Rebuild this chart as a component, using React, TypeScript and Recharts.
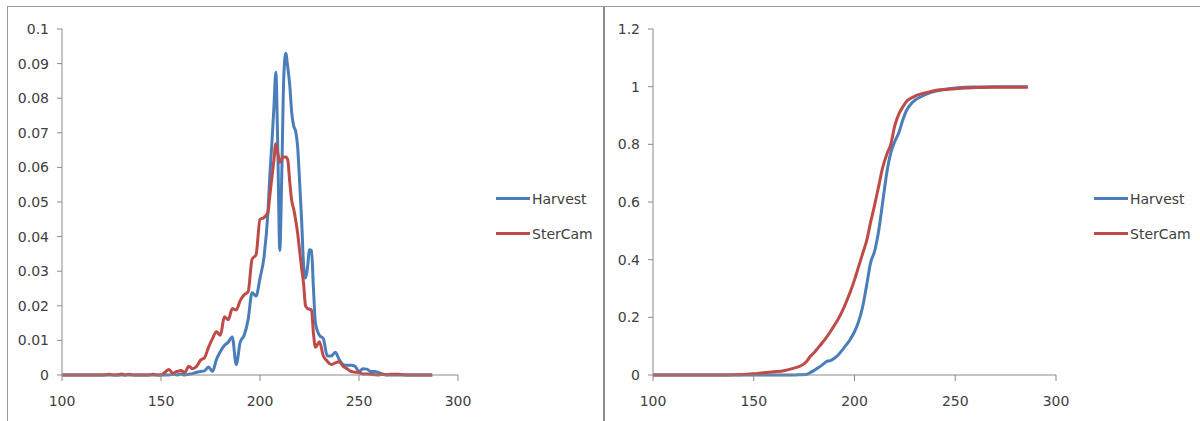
import { LineChart, Line, XAxis, YAxis, Legend } from 'recharts';

const pdfX = [
  100, 104, 108, 112, 116, 120, 124, 126, 128, 130, 132, 134, 136, 140, 144, 146, 148,
  150, 152, 154, 156, 158, 160, 162, 164, 166, 168, 170, 172, 174, 176, 178, 180, 182, 184, 186, 188, 190, 192, 194, 196, 198, 200, 202,
  204, 205, 206, 207, 208, 209, 210, 211, 212, 213, 214, 215, 216, 217, 218, 219, 220, 221, 222, 223, 224, 225, 226, 227, 228,
  230, 232, 234, 236, 238, 240, 242, 244, 246, 248, 250, 252, 254, 256, 258, 260, 262,
  264, 266, 270, 275, 280, 287,
];
const harvestPdf = [
  0, 0, 0, 0, 0, 0, 0, 0, 0, 0, 0, 0, 0, 0, 0, 0, 0,
  0, 0, 0, 0.0002, 0, 0.0003, 0, 0.0002, 0.0004, 0.0008, 0.001, 0.0012, 0.0023, 0.001, 0.0045, 0.0068, 0.0085, 0.0095, 0.011, 0.003, 0.0095, 0.0115, 0.016, 0.0238, 0.0228, 0.028, 0.034,
  0.047, 0.058, 0.067, 0.077, 0.0875, 0.065, 0.036, 0.058, 0.086, 0.093, 0.089, 0.084, 0.076, 0.072, 0.0705, 0.066, 0.056, 0.045, 0.032, 0.028, 0.031, 0.0362, 0.036, 0.025, 0.015,
  0.0115, 0.0105, 0.0055, 0.0055, 0.0066, 0.0045, 0.003, 0.0028, 0.0028, 0.0025, 0.001, 0.0018, 0.0017, 0.001, 0.001, 0.0007, 0.0002,
  0, 0, 0, 0, 0, 0,
];
const sterCamPdf = [
  0, 0, 0, 0, 0, 0, 0.0002, 0, 0, 0.0003, 0, 0.0002, 0, 0, 0, 0.0002, 0,
  0, 0.0008, 0.0016, 0.0005, 0.001, 0.0013, 0.0007, 0.0025, 0.0018, 0.0025, 0.0043, 0.005, 0.008, 0.0105, 0.0125, 0.0115, 0.0168, 0.016, 0.0192, 0.0188, 0.0215, 0.0232, 0.024, 0.0335, 0.0347, 0.045, 0.0455,
  0.047, 0.052, 0.057, 0.062, 0.0668, 0.064, 0.0615, 0.0625, 0.063, 0.063, 0.0622, 0.056, 0.0505, 0.048, 0.0448, 0.041, 0.036, 0.031, 0.0265, 0.02, 0.0192, 0.019, 0.0188, 0.012, 0.008,
  0.0096, 0.0055, 0.004, 0.003, 0.0035, 0.0038, 0.0025, 0.0018, 0.001, 0.0008, 0.0007, 0.0003, 0.0003, 0.0002, 0.0001, 0, 0.0002,
  0.0001, 0.0002, 0.0002, 0, 0, 0,
];

const cdfX = [
  100, 110, 120, 130, 140, 145, 150, 155, 160, 165, 170, 173, 176,
  178, 180, 182, 184, 186, 188, 190, 192, 194, 196, 198, 200, 202, 204, 206, 208, 210, 212, 214, 216, 218, 220, 222, 224, 226, 228, 230,
  233, 236, 240, 245, 250, 255, 260, 270, 280, 286,
];
const harvestCdf = [
  0, 0, 0, 0, 0, 0, 0, 0, 0, 0, 0, 0.001, 0.002,
  0.008, 0.016, 0.025, 0.035, 0.046, 0.05, 0.058, 0.07, 0.087, 0.105, 0.125, 0.15, 0.185, 0.235, 0.31, 0.39, 0.43, 0.5, 0.6, 0.7, 0.77, 0.81, 0.84, 0.885, 0.92, 0.94, 0.953,
  0.965, 0.975, 0.984, 0.991, 0.995, 0.998, 0.999, 1, 1, 1,
];
const sterCamCdf = [
  0, 0, 0, 0, 0.001, 0.002, 0.004, 0.008, 0.011, 0.015, 0.024, 0.031, 0.045,
  0.064, 0.078, 0.095, 0.112, 0.13, 0.15, 0.172, 0.195, 0.222, 0.255, 0.29, 0.33, 0.375, 0.42, 0.465, 0.53, 0.59, 0.655, 0.72, 0.765, 0.8, 0.865, 0.905, 0.93, 0.95, 0.96, 0.967,
  0.975, 0.98, 0.987, 0.99, 0.993, 0.995, 0.997, 0.998, 0.998, 0.998,
];

const xTicks = [100, 150, 200, 250, 300];
const pdfTicks = [0, 0.01, 0.02, 0.03, 0.04, 0.05, 0.06, 0.07, 0.08, 0.09, 0.1];
const cdfTicks = [0, 0.2, 0.4, 0.6, 0.8, 1, 1.2];

const BLUE = '#4a7ebb';
const RED = '#be4b48';
const AXIS = '#8a8a8a';
const FONT = 'DejaVu Sans, sans-serif';
const tick = { fill: '#404040', fontSize: 14, fontFamily: FONT };
const LEGEND_W = 110;

const pdfData = pdfX.map((x, i) => ({ x, harvest: harvestPdf[i], sterCam: sterCamPdf[i] }));
const cdfData = cdfX.map((x, i) => ({ x, harvest: harvestCdf[i], sterCam: sterCamCdf[i] }));

const fmt = (v: number) => String(+v.toFixed(2));

function SideLegend({ payload }: any) {
  return (
    <div>
      {(payload || []).map((p: any) => (
        <div key={p.value} style={{ display: 'flex', alignItems: 'center', height: 35 }}>
          <div style={{ width: 34, height: 3, background: p.color, marginRight: 2 }} />
          <span style={{ fontFamily: FONT, fontSize: 14, color: '#404040' }}>{p.value}</span>
        </div>
      ))}
    </div>
  );
}

// right = distance from plot's right edge to the panel's right edge
function Panel({ data, ticks, domain, yWidth, right }: { data: any[]; ticks: number[]; domain: [number, number]; yWidth: number; right: number }) {
  return (
    <LineChart width={600} height={421} data={data} margin={{ top: 29, right: right - LEGEND_W, bottom: 16, left: 0 }}>
      <XAxis
        dataKey="x"
        type="number"
        domain={[100, 300]}
        ticks={xTicks}
        stroke={AXIS}
        tick={tick}
        tickSize={6}
        tickMargin={15}
        height={30}
        interval={0}
      />
      <YAxis
        type="number"
        domain={domain}
        ticks={ticks}
        tickFormatter={fmt}
        stroke={AXIS}
        tick={tick}
        tickSize={5}
        tickMargin={8}
        width={yWidth}
        interval={0}
      />
      <Legend
        layout="vertical"
        align="right"
        verticalAlign="middle"
        content={<SideLegend />}
        wrapperStyle={{ left: 600 - right + 38, top: 181, width: LEGEND_W }}
      />
      <Line name="Harvest" dataKey="harvest" type="monotone" stroke={BLUE} strokeWidth={3} dot={false} isAnimationActive={false} />
      <Line name="SterCam" dataKey="sterCam" type="monotone" stroke={RED} strokeWidth={3} dot={false} isAnimationActive={false} />
    </LineChart>
  );
}

export default function App() {
  return (
    <div style={{ position: 'absolute', left: 0, top: 0, width: 1200, height: 421, background: '#fff', overflow: 'hidden' }}>
      <div style={{ position: 'absolute', left: 7, top: 6, width: 598, height: 430, border: '1px solid #9a9a9a', borderRight: '2px solid #8c8c8c', boxSizing: 'border-box' }} />
      <div style={{ position: 'absolute', left: 605, top: 6, width: 600, height: 430, borderTop: '1px solid #9a9a9a', boxSizing: 'border-box' }} />
      <div style={{ position: 'absolute', left: 0, top: 0 }}>
        <Panel data={pdfData} ticks={pdfTicks} domain={[0, 0.1]} yWidth={62} right={142} />
      </div>
      <div style={{ position: 'absolute', left: 600, top: 0 }}>
        <Panel data={cdfData} ticks={cdfTicks} domain={[0, 1.2]} yWidth={53} right={144} />
      </div>
    </div>
  );
}
